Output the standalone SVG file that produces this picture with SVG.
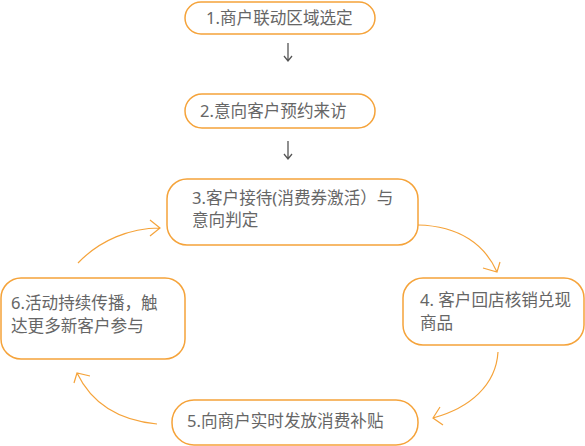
<svg xmlns="http://www.w3.org/2000/svg" width="585" height="446" viewBox="0 0 585 446">
<style>
.box{fill:#fff;stroke:#F5A33A;stroke-width:1.5}
.t{font-family:"Noto Sans","Noto Sans CJK SC",sans-serif;font-size:16.6px;fill:#666}
.c{fill:none;stroke:#F5A33A;stroke-width:1.2}
.d{fill:none;stroke:#555;stroke-width:1.3}
</style>
<rect width="585" height="446" fill="#fff"/>
<g id="connectors">
<path class="d" d="M288 43V61M284 56L288 61L292 56"/>
<path class="d" d="M288 141V159M284 154L288 159L292 154"/>
<path class="c" d="M418 225C460 226 485 245 497 272M483 268L497 272L500 262"/>
<path class="c" d="M498 352C496 385 470 408 433 418M440 407L433 418L443 425"/>
<path class="c" d="M157 424C115 420 90 400 77 373M90 376L77 373L74 383"/>
<path class="c" d="M78 263C100 240 130 228 160 228M150 220L160 228L150 236"/>
</g>
<g id="n1"><rect class="box" x="185" y="2" width="190" height="32" rx="16"/><text class="t" x="206" y="24">1.商户联动区域选定</text></g>
<g id="n2"><rect class="box" x="185" y="94" width="190" height="34" rx="17"/><text class="t" x="200" y="117">2.意向客户预约来访</text></g>
<g id="n3"><rect class="box" x="167" y="179" width="251" height="66" rx="20"/><text class="t" x="192" y="204">3.客户接待(消费券激活）与</text><text class="t" x="192" y="226">意向判定</text></g>
<g id="n4"><rect class="box" x="403" y="278" width="181" height="67" rx="20"/><text class="t" x="420" y="306">4. 客户回店核销兑现</text><text class="t" x="420" y="329">商品</text></g>
<g id="n5"><rect class="box" x="172" y="400" width="246" height="45" rx="22"/><text class="t" x="187" y="427">5.向商户实时发放消费补贴</text></g>
<g id="n6"><rect class="box" x="1" y="278" width="184" height="81" rx="20"/><text class="t" x="11" y="309">6.活动持续传播，触</text><text class="t" x="11" y="332">达更多新客户参与</text></g>
</svg>
